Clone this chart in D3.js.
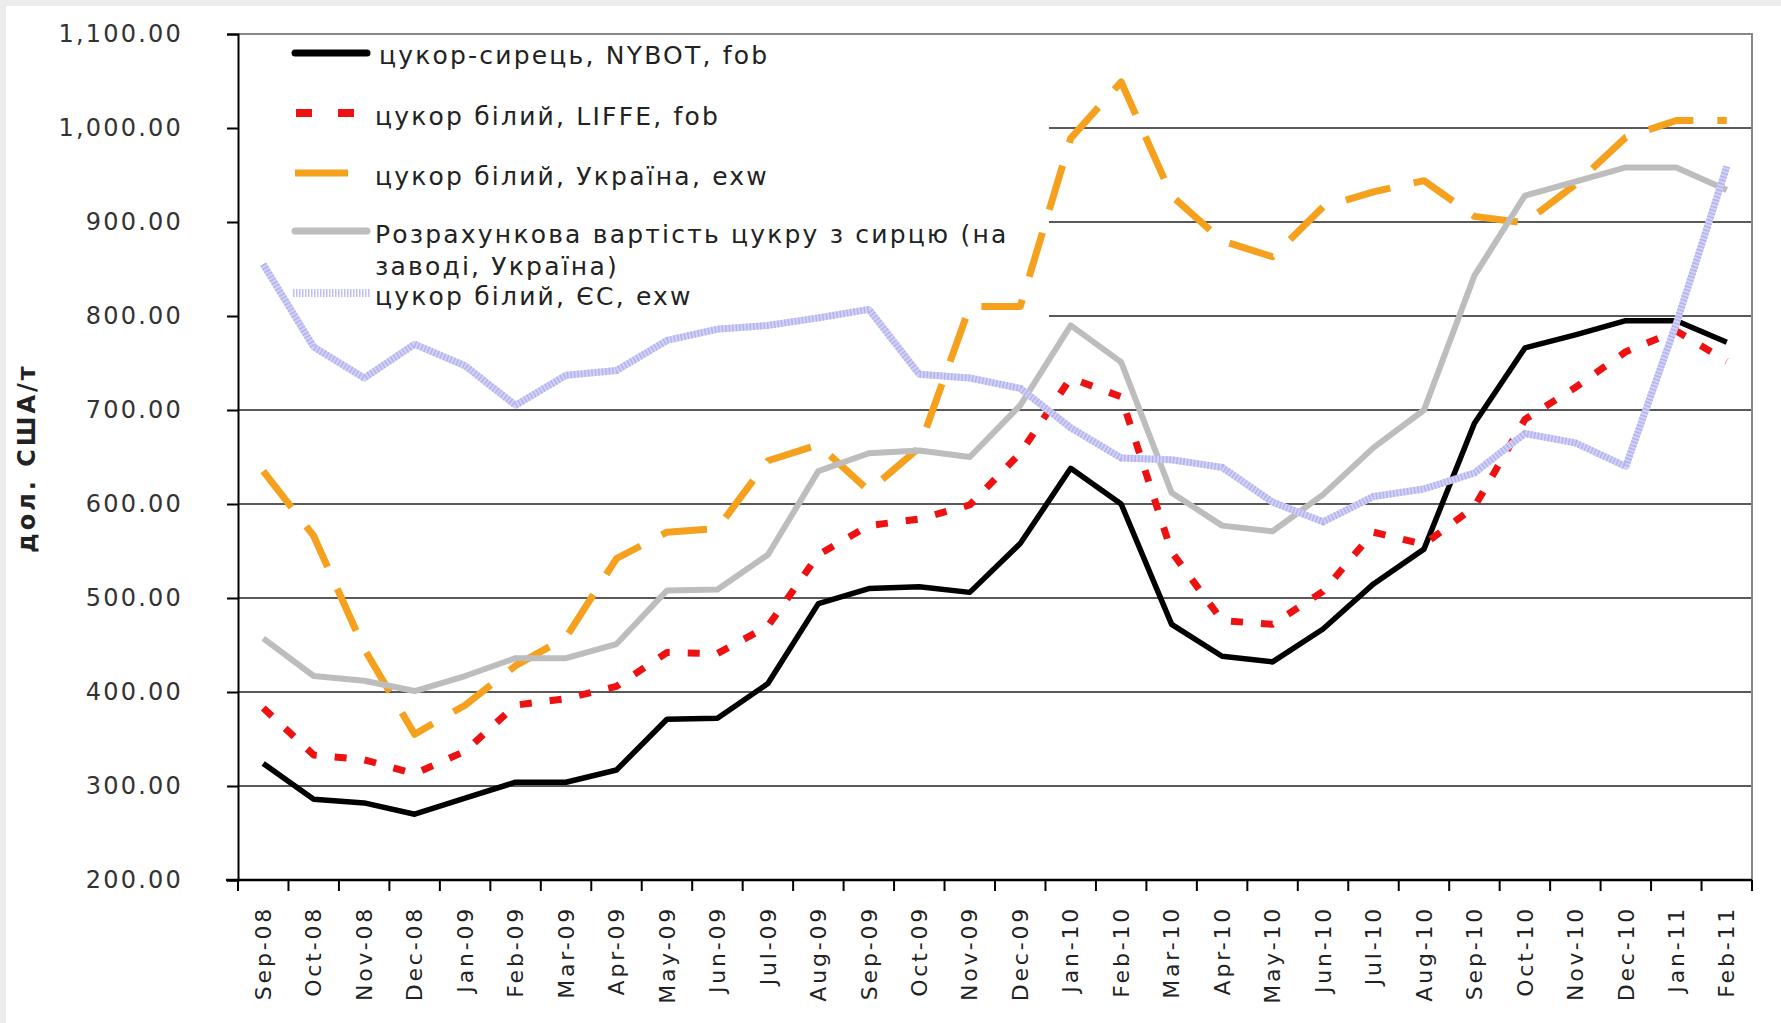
<!DOCTYPE html>
<html>
<head>
<meta charset="utf-8">
<script src="https://cdn.jsdelivr.net/npm/d3@7"></script>
<style>
  body { margin: 0; background: #ececec; }
  svg { display: block; }
</style>
</head>
<body>
<div id="chart-area"></div>
<script>
// months on the x axis
let months = ["Sep-08","Oct-08","Nov-08","Dec-08","Jan-09","Feb-09","Mar-09","Apr-09","May-09","Jun-09",
    "Jul-09","Aug-09","Sep-09","Oct-09","Nov-09","Dec-09","Jan-10","Feb-10","Mar-10","Apr-10",
    "May-10","Jun-10","Jul-10","Aug-10","Sep-10","Oct-10","Nov-10","Dec-10","Jan-11","Feb-11"];

// USD per tonne
let rawNybot = [324,286,282,270,287,304,304,317,371,372,409,494,510,512,506,558,638,600,472,438,
    432,467,515,552,686,766,780,795,795,772];
let whiteLiffe = [383,333,328,313,337,386,393,406,442,441,470,546,577,584,599,654,734,714,549,476,
    472,507,570,557,597,690,724,762,784,752];
let whiteUkraine = [635,566,446,355,386,428,458,542,570,574,646,663,614,660,810,810,989,1049,928,880,
    863,916,932,944,906,899,940,990,1008,1008];
let calcFromRaw = [457,417,412,401,417,436,436,451,508,509,546,635,654,657,650,705,790,751,612,577,
    571,610,660,700,843,928,943,958,958,934];
let whiteEU = [855,767,734,770,747,705,737,742,774,786,790,798,807,738,734,723,681,649,647,639,
    602,581,608,616,633,675,665,640,792,959];

let yTicks = [200,300,400,500,600,700,800,900,1000,1100];

let seriesNames = ["цукор-сирець, NYBOT, fob", "цукор білий, LIFFE, fob", "цукор білий, Україна, exw",
    "Розрахункова вартість цукру з сирцю (на|заводі, Україна)", "цукор білий, ЄС, exw"];

let W = 1781, H = 1023;
let pLeft = 238, pRight = 1752, pTop = 34, pBottom = 880;
let font = "'DejaVu Sans', Verdana, sans-serif";

let svg = d3.select("#chart-area").append("svg")
    .attr("width", W).attr("height", H)
    .style("font-family", font);

svg.append("rect").attr("x", 6).attr("y", 6).attr("width", W - 6).attr("height", H - 6).attr("fill", "#fff");

let x = d3.scaleBand().domain(months).range([pLeft, pRight]);
let y = d3.scaleLinear().domain([200, 1100]).range([pBottom, pTop]);
let cx = d => x(d) + x.bandwidth() / 2;

// gridlines
svg.selectAll(".grid").data(yTicks.slice(1, -1)).enter().append("line")
    .attr("x1", pLeft).attr("x2", pRight)
    .attr("y1", d => y(d)).attr("y2", d => y(d))
    .attr("stroke", "#222").attr("stroke-width", 1.6);

// plot frame top/right
svg.append("path")
    .attr("d", "M" + pLeft + "," + y(1100) + "H" + pRight + "V" + pBottom)
    .attr("fill", "none").attr("stroke", "#888").attr("stroke-width", 2);

// legend background hides the grid
svg.append("rect").attr("x", pLeft + 1).attr("y", pTop + 2).attr("width", 1048 - pLeft).attr("height", 300)
    .attr("fill", "#fff");

// y axis
let yAxis = svg.append("g").attr("transform", "translate(" + pLeft + ",0)")
    .call(d3.axisLeft(y).tickValues(yTicks).tickSize(11).tickPadding(44).tickFormat(d3.format(",.2f")));
yAxis.select(".domain").attr("stroke", "#000").attr("stroke-width", 2);
yAxis.selectAll(".tick line").attr("stroke", "#000").attr("stroke-width", 2);
yAxis.selectAll("text").attr("font-size", 24).attr("fill", "#333")
    .style("letter-spacing", "2.2px").style("font-family", font);

// x axis: ticks on category boundaries
let xAxis = svg.append("g").attr("transform", "translate(0," + pBottom + ")")
    .call(d3.axisBottom(x).tickSize(0).tickPadding(0));
xAxis.select(".domain").remove();
xAxis.append("line").attr("x1", pLeft - 12).attr("x2", pRight).attr("stroke", "#000").attr("stroke-width", 2.5);
xAxis.selectAll(".bound").data(months.concat(["end"])).enter().append("line")
    .attr("x1", (d, i) => pLeft + i * x.bandwidth()).attr("x2", (d, i) => pLeft + i * x.bandwidth())
    .attr("y1", 0).attr("y2", 11).attr("stroke", "#000").attr("stroke-width", 2);
xAxis.selectAll(".tick text")
    .attr("transform", "translate(0,26) rotate(-90)")
    .attr("text-anchor", "end").attr("dy", "0.35em").attr("dx", 0)
    .attr("x", 0).attr("y", 0)
    .attr("font-size", 22).attr("fill", "#222")
    .style("letter-spacing", "2.8px").style("font-family", font);

// y title
svg.append("text")
    .attr("transform", "translate(27,458) rotate(-90)")
    .attr("text-anchor", "middle").attr("dy", "0.35em")
    .attr("font-size", 24).attr("font-weight", "bold").attr("fill", "#222")
    .style("letter-spacing", "3px")
    .text("дол. США/т");

let line = d3.line().x((d, i) => cx(months[i])).y(d => y(d));

let styles = [
    {data: rawNybot, color: "#000", width: 5.5, dash: null},
    {data: whiteLiffe, color: "#ee1111", width: 7, dash: "12,18"},
    {data: whiteUkraine, color: "#f5a11e", width: 7, dash: "46,24"},
    {data: calcFromRaw, color: "#bdbdbd", width: 6, dash: null},
    {data: whiteEU, color: "#d2d2f7", width: 7, dash: null}
];

styles.forEach(s => {
    svg.append("path").datum(s.data)
        .attr("d", line).attr("fill", "none")
        .attr("stroke", s.color).attr("stroke-width", s.width)
        .attr("stroke-dasharray", s.dash)
        .attr("stroke-linejoin", "round");
});
// hatched look of the EU line
svg.append("path").datum(whiteEU)
    .attr("d", line).attr("fill", "none")
    .attr("stroke", "#b2b2ec").attr("stroke-width", 7)
    .attr("stroke-dasharray", "1.5,2");

// legend
let legY = [53, 113, 173, 231, 293];
let textY = [55, 116, 176, 234, 296];
let lg = svg.append("g");
lg.append("line").attr("x1", 295).attr("x2", 367).attr("y1", legY[0]).attr("y2", legY[0])
    .attr("stroke", "#000").attr("stroke-width", 7).attr("stroke-linecap", "round");
lg.selectAll(".sq").data([296, 338]).enter().append("rect")
    .attr("x", d => d).attr("y", legY[1] - 4).attr("width", 16).attr("height", 8).attr("fill", "#ee1111");
lg.append("line").attr("x1", 295).attr("x2", 348).attr("y1", legY[2]).attr("y2", legY[2])
    .attr("stroke", "#f5a11e").attr("stroke-width", 7);
lg.append("line").attr("x1", 295).attr("x2", 367).attr("y1", legY[3]).attr("y2", legY[3])
    .attr("stroke", "#bdbdbd").attr("stroke-width", 7).attr("stroke-linecap", "round");
lg.append("line").attr("x1", 293).attr("x2", 370).attr("y1", legY[4]).attr("y2", legY[4])
    .attr("stroke", "#c0c0f0").attr("stroke-width", 8).attr("stroke-dasharray", "1.5,1.5");

seriesNames.forEach((n, i) => {
    let parts = n.split("|");
    let tx = i === 0 ? 379 : 375;
    let t = lg.append("text").attr("y", textY[i])
        .attr("font-size", 25).attr("fill", "#222")
        .style("letter-spacing", "2.2px");
    parts.forEach((p, j) => {
        t.append("tspan").attr("x", tx).attr("dy", j === 0 ? "0.35em" : "32px").text(p);
    });
});
</script>
</body>
</html>
